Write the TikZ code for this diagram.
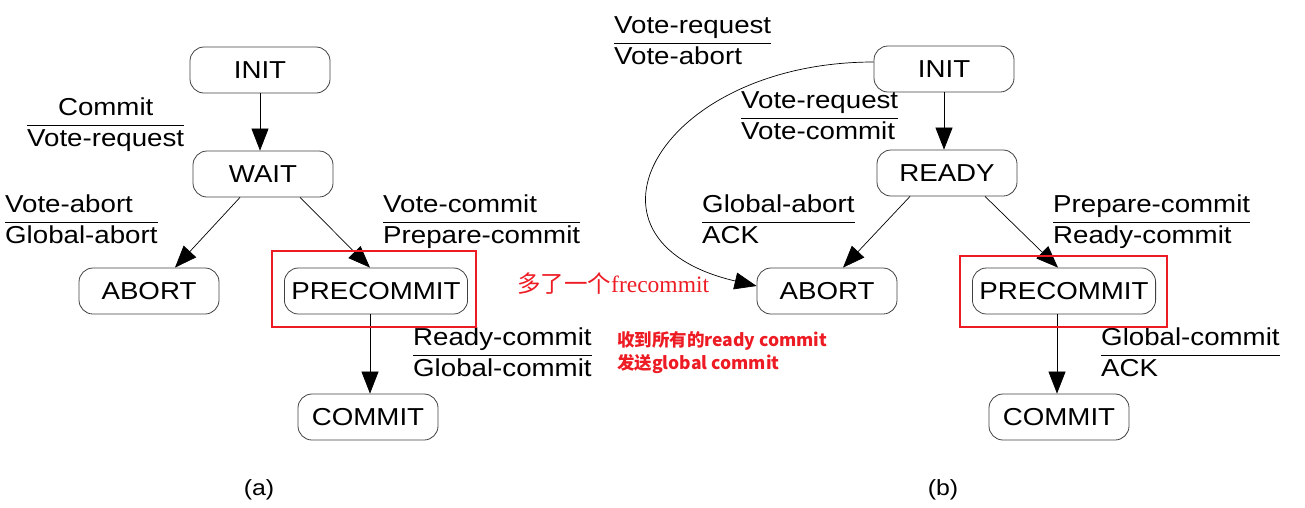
\documentclass[tikz,border=0pt]{standalone}
\usepackage{fontspec}
\setmainfont{Liberation Sans}[FakeStretch=1.13]
\newfontfamily\cjk{Noto Sans CJK SC}
\newfontfamily\annoserif{Liberation Serif}
\usetikzlibrary{arrows.meta}
\definecolor{annored}{RGB}{237,28,36}
\newcommand{\msgpair}[3][l]{\begin{tabular}{@{}#1@{}}#2\\\hline #3\end{tabular}}
\setlength{\arrayrulewidth}{0.8pt}
\renewcommand{\arraystretch}{1.1}
\tikzset{every picture/.style={x=1pt,y=-1pt},
  every node/.style={font=\fontsize{24.5}{28}\selectfont},
  state/.style={                % rounded boxes for the states
    draw=black!75, line width=0.8pt,
    rounded corners=14pt,
    minimum width=140pt, minimum height=46pt,
    inner xsep=7pt},
  msg/.style={anchor=west, inner sep=0pt},
  trans/.style={                % transitions with big filled heads
    draw, line width=0.7pt,
    -{Triangle[length=22pt,width=17pt]}},
  hilite/.style={draw=annored, line width=2pt},
  note/.style={text=annored, anchor=west, inner sep=0pt}}

\begin{document}
\begin{tikzpicture}
  \useasboundingbox (0,0) rectangle (1305,507);

  % (a) coordinator
  \node [state] (inita) at (260,70) {INIT};
  \node [state] (waita) at (263,174) {WAIT};
  \node [state] (aborta) at (149,291) {ABORT};
  \node [state] (precommita) at (376,291) {PRECOMMIT};
  \node [state] (commita) at (368,417) {COMMIT};

  \draw [trans] (inita.south) -- (inita.south |- waita.north);
  \draw [trans] ([xshift=-23pt]waita.south) -- ([xshift=26pt]aborta.north);
  \draw [trans] ([xshift=37pt]waita.south) -- ([xshift=-6pt]precommita.north);
  \draw [trans] ([xshift=-6pt]precommita.south) -- ([xshift=-6pt]precommita.south |- commita.north);

  \node [msg] (ma1) at (27,125) {\msgpair[c]{Commit}{Vote-request}};
  \node [msg] (ma2) at (5,222) {\msgpair{Vote-abort}{Global-abort}};
  \node [msg] (ma3) at (383,222) {\msgpair{Vote-commit}{Prepare-commit}};
  \node [msg] (ma4) at (413,355) {\msgpair{Ready-commit}{Global-commit}};

  \draw [hilite] (272,251) rectangle (476,327);

  % (b) participant
  \node [state] (initb) at (944,69) {INIT};
  \node [state] (readyb) at (947,173) {READY};
  \node [state] (abortb) at (827,291) {ABORT};
  \node [state] (precommitb) at (1064,291) {PRECOMMIT};
  \node [state] (commitb) at (1059,417) {COMMIT};

  \draw [trans] (initb.south) -- (initb.south |- readyb.north);
  \draw [trans] ([yshift=7pt]initb.west) .. controls (660,62) and (560,240) .. ([yshift=5pt]abortb.west);
  \draw [trans] ([xshift=-37pt]readyb.south) -- ([xshift=16pt]abortb.north);
  \draw [trans] ([xshift=38pt]readyb.south) -- ([xshift=-6pt]precommitb.north);
  \draw [trans] ([xshift=-7pt]precommitb.south) -- ([xshift=-7pt]precommitb.south |- commitb.north);

  \node [msg] (mb1) at (614,43) {\msgpair{Vote-request}{Vote-abort}};
  \node [msg] (mb2) at (741,118) {\msgpair{Vote-request}{Vote-commit}};
  \node [msg] (mb3) at (702,222) {\msgpair{Global-abort}{ACK}};
  \node [msg] (mb4) at (1053,222) {\msgpair{Prepare-commit}{Ready-commit}};
  \node [msg] (mb5) at (1101,355) {\msgpair{Global-commit}{ACK}};

  \draw [hilite] (960,256) rectangle (1167,327);

  % notes
  \node [note, font=\fontsize{23.5}{27}\selectfont] (extra) at (517,284) {\cjk 多了一个\annoserif frecommit};
  \node [note, align=left, font=\fontsize{17.5}{23}\selectfont\cjk\bfseries] (allready) at (617,353)
    {收到所有的ready commit\\发送global commit};

  \node [font=\fontsize{22}{26}\selectfont] (capa) at (259,490) {(a)};
  \node [font=\fontsize{22}{26}\selectfont] (capb) at (943,490) {(b)};
\end{tikzpicture}
\end{document}
